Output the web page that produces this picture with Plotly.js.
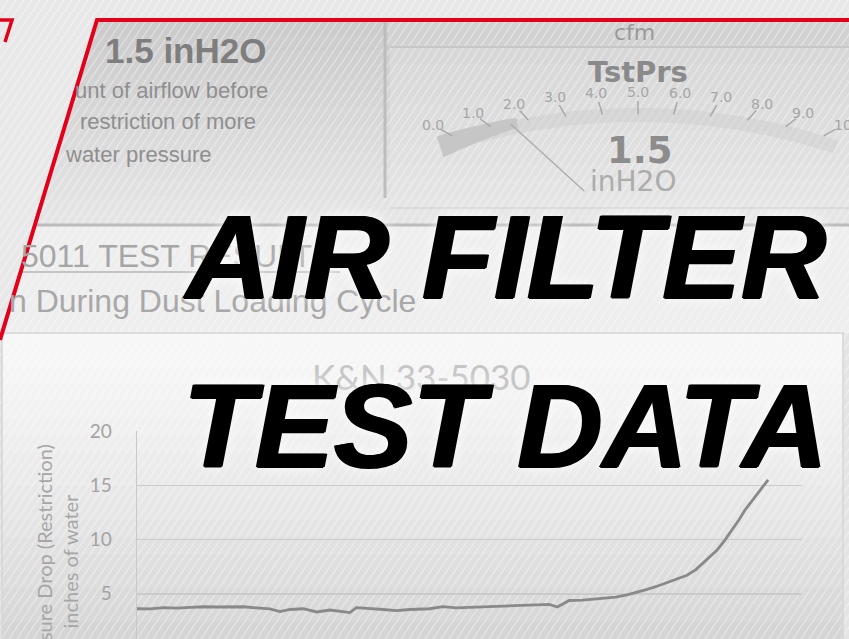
<!DOCTYPE html>
<html>
<head>
<meta charset="utf-8">
<script src="https://cdn.plot.ly/plotly-3.0.1.min.js"></script>
<style>html,body{margin:0;padding:0;background:#e9e9e9;overflow:hidden}</style>
</head>
<body>
<div id="chart" style="width:849px;height:639px"></div>
<script>
// ---------------- data ----------------
const testTime = [0, 2, 4, 6, 8, 10, 12, 14, 16, 18, 20, 21.5, 23, 25, 27, 29, 32, 33, 35, 37, 39, 41, 44, 46, 48, 51, 54, 56, 59, 62, 63.2, 65, 67, 69.6, 72, 73.7, 75, 76.7, 78, 79.7, 81, 82.7, 84, 85.1, 86.2, 87.2, 88.4, 89.5, 90.5, 91.4, 92.4, 93.4, 94.2, 94.9];
const restriction = [3.62, 3.60, 3.72, 3.68, 3.75, 3.80, 3.78, 3.82, 3.80, 3.70, 3.60, 3.36, 3.55, 3.62, 3.32, 3.50, 3.27, 3.72, 3.66, 3.55, 3.45, 3.55, 3.62, 3.82, 3.70, 3.76, 3.85, 3.92, 3.98, 4.02, 3.78, 4.38, 4.42, 4.52, 4.68, 4.90, 5.10, 5.40, 5.65, 6.02, 6.30, 6.70, 7.20, 7.80, 8.40, 9.00, 9.95, 10.9, 11.8, 12.7, 13.5, 14.3, 14.9, 15.5];
const yTickVals = [5, 10, 15, 20];
const yTickText = ['5', '10', '15', '20'];
const chartTitle = 'K&N 33-5030';
const yTitleLines = ['Pressure Drop (Restriction)', 'inches of water'];
const gaugeLabels = ['0.0', '1.0', '2.0', '3.0', '4.0', '5.0', '6.0', '7.0', '8.0', '9.0', '10'];
const gaugeReading = 1.5;
const gaugeUnit = 'inH2O';
const headline = ['AIR FILTER', 'TEST DATA'];

// ---------------- geometry helpers (layout only) ----------------
const W = 849, H = 639;
const fx = x => x / W;
const fy = y => 1 - y / H;
const pathFrom = pts => 'M' + pts.map(p => fx(p[0]).toFixed(5) + ',' + fy(p[1]).toFixed(5)).join('L') + 'Z';
const lineFrom = pts => 'M' + pts.map(p => fx(p[0]).toFixed(5) + ',' + fy(p[1]).toFixed(5)).join('L');
const gray = g => { g = Math.round(g); return 'rgb(' + g + ',' + g + ',' + g + ')'; };
const diagX = y => 97 - (y - 20) * (97 / 320);

const shapes = [];
const P = (o) => shapes.push(Object.assign({xref: 'paper', yref: 'paper', layer: 'below'}, o));

// inner region base
P({type: 'path', path: pathFrom([[97, 20], [849, 20], [849, 639], [0, 639], [0, 340]]), fillcolor: '#e2e2e2', line: {width: 0}});
// top panel gradient bands
{
  const n = 14, y0 = 21, y1 = 225;
  for (let i = 0; i < n; i++) {
    const a = y0 + (y1 - y0) * i / n, b = y0 + (y1 - y0) * (i + 1) / n + 0.6;
    P({type: 'path', path: pathFrom([[diagX(a), a], [849, a], [849, b], [diagX(b), b]]), fillcolor: gray(203 + 26 * i / (n - 1)), line: {width: 0}});
  }
}
// middle band
P({type: 'path', path: pathFrom([[diagX(225), 225], [849, 225], [849, 333], [diagX(333), 333]]), fillcolor: '#eeeeee', line: {width: 0}});
// chart panel gradient
{
  const n = 18, y0 = 333, y1 = 639;
  for (let i = 0; i < n; i++) {
    const a = y0 + (y1 - y0) * i / n, b = y0 + (y1 - y0) * (i + 1) / n + 0.6;
    P({type: 'path', path: pathFrom([[2, a], [843, a], [843, b], [2, b]]), fillcolor: gray(247 - 34 * Math.pow(i / (n - 1), 1.3)), line: {width: 0}});
  }
}
P({type: 'path', path: pathFrom([[843, 333], [849, 333], [849, 639], [843, 639]]), fillcolor: '#e4e4e4', line: {width: 0}});
// gauge panel
P({type: 'path', path: pathFrom([[388, 22], [849, 22], [849, 46], [388, 46]]), fillcolor: '#d2d2d2', line: {width: 0}});
{
  const n = 10, y0 = 48, y1 = 212;
  for (let i = 0; i < n; i++) {
    const a = y0 + (y1 - y0) * i / n, b = y0 + (y1 - y0) * (i + 1) / n + 0.6;
    P({type: 'path', path: pathFrom([[390, a], [849, a], [849, b], [390, b]]), fillcolor: gray(215 + 14 * i / (n - 1)), line: {width: 0}});
  }
}

// diagonal brushed stripes
{
  const dx = 639 / Math.tan(56 * Math.PI / 180);
  for (let x0 = -dx; x0 < 849; x0 += 8) {
    P({type: 'line', x0: fx(x0), y0: fy(639), x1: fx(x0 + dx), y1: fy(0), line: {color: 'rgba(255,255,255,0.32)', width: 1.6}});
  }
}

// gauge frame lines
P({type: 'line', x0: fx(385), y0: fy(22), x1: fx(385), y1: fy(198), line: {color: '#bdbdbd', width: 3}});
P({type: 'line', x0: fx(390), y0: fy(47), x1: fx(849), y1: fy(47), line: {color: '#c8c8c8', width: 2}});
P({type: 'line', x0: fx(390), y0: fy(208), x1: fx(849), y1: fy(208), line: {color: '#d6d6d6', width: 1.5}});

// gauge arc, ticks, needle
const GC = [638, 745], GR = 653, PIV = [638, 240];
const gAng = v => (-18.3 + v * 3.66) * Math.PI / 180;
const gPt = (v, r) => [GC[0] + r * Math.sin(gAng(v)), GC[1] - r * Math.cos(gAng(v))];
{
  const outer = [], inner = [];
  for (let k = 0; k <= 50; k++) { const v = 10 * k / 50; outer.push(gPt(v, GR - 16)); inner.unshift(gPt(v, GR - 30)); }
  P({type: 'path', path: pathFrom(outer.concat(inner)), fillcolor: 'rgba(195,195,195,0.32)', line: {width: 0}});
  const o2 = [], i2 = [];
  for (let k = 0; k <= 10; k++) { const v = 2 * k / 10; o2.push(gPt(v, GR - 12 - 2 * k / 10)); i2.unshift(gPt(v, GR - 34 + 10 * k / 10)); }
  P({type: 'path', path: pathFrom(o2.concat(i2)), fillcolor: '#c6c6c6', line: {width: 0}});
}
gaugeLabels.forEach((lab, i) => {
  const p = gPt(i, GR);
  const d = [PIV[0] - p[0], PIV[1] - p[1]], L = Math.hypot(d[0], d[1]);
  const u = [d[0] / L, d[1] / L];
  P({type: 'line', x0: fx(p[0] + u[0] * 9), y0: fy(p[1] + u[1] * 9), x1: fx(p[0] + u[0] * 22), y1: fy(p[1] + u[1] * 22), line: {color: '#a6a6a6', width: 1.4}});
});
{
  const p = gPt(gaugeReading, GR);
  const a = [PIV[0] + 0.37 * (p[0] - PIV[0]), PIV[1] + 0.37 * (p[1] - PIV[1])];
  const b = [PIV[0] + 0.88 * (p[0] - PIV[0]), PIV[1] + 0.88 * (p[1] - PIV[1])];
  P({type: 'line', x0: fx(a[0]), y0: fy(a[1]), x1: fx(b[0]), y1: fy(b[1]), line: {color: '#ababab', width: 1.3}});
}

// panel separators
P({type: 'line', x0: fx(diagX(225)), y0: fy(225), x1: fx(849), y1: fy(225), line: {color: '#bcbcbc', width: 3}});
P({type: 'line', x0: fx(20), y0: fy(272), x1: fx(340), y1: fy(272), line: {color: '#b4b4b4', width: 1.5}});
P({type: 'path', path: lineFrom([[2, 645], [2, 333], [843, 333], [843, 645]]), line: {color: '#d6d6d6', width: 1.5}});

// red frame
P({type: 'path', path: lineFrom([[849, 20], [97, 20], [0, 340]]), line: {color: '#e2001a', width: 4}});
P({type: 'path', path: lineFrom([[0, 20], [12, 20], [5, 42]]), line: {color: '#e2001a', width: 3.5}});

// ---------------- annotations ----------------
const LS = 'Liberation Sans, Arial, sans-serif';
const DV = 'DejaVu Sans, Verdana, sans-serif';
const annotations = [];
const A = (o) => annotations.push(Object.assign({xref: 'paper', yref: 'paper', showarrow: false, yanchor: 'middle'}, o));

A({text: '1.5 inH2O', x: fx(103), y: fy(50), xanchor: 'left', font: {family: LS, size: 35, color: '#7e7e7e', weight: 700}});
A({text: 'unt of airflow before', x: fx(73), y: fy(90), xanchor: 'left', font: {family: LS, size: 22, color: '#8f8f8f'}});
A({text: 'restriction of more', x: fx(78), y: fy(122), xanchor: 'left', font: {family: LS, size: 22, color: '#8f8f8f'}});
A({text: 'water pressure', x: fx(63), y: fy(154), xanchor: 'left', font: {family: LS, size: 22, color: '#8f8f8f'}});
A({text: 'cfm', x: fx(634), y: fy(33), xanchor: 'center', font: {family: DV, size: 22, color: '#9a9a9a'}});
A({text: 'TstPrs', x: fx(638), y: fy(72), xanchor: 'center', font: {family: DV, size: 29, color: '#8a8a8a', weight: 700}});
gaugeLabels.forEach((lab, i) => {
  const p = gPt(i, GR);
  A({text: lab, x: fx(p[0]), y: fy(p[1]), xanchor: 'center', font: {family: DV, size: 14, color: '#a6a6a6'}});
});
A({text: String(gaugeReading), x: fx(640), y: fy(150), xanchor: 'center', font: {family: DV, size: 37, color: '#8c8c8c', weight: 700}});
A({text: gaugeUnit, x: fx(633), y: fy(181), xanchor: 'center', font: {family: DV, size: 28, color: '#acacac'}});
A({text: '5011 TEST RESULTS', x: fx(19), y: fy(256), xanchor: 'left', font: {family: LS, size: 32, color: '#a6a6a6'}});
A({text: 'n During Dust Loading Cycle', x: fx(7), y: fy(301), xanchor: 'left', font: {family: LS, size: 32, color: '#a8a8a8'}});
A({text: chartTitle, x: fx(421), y: fy(376), xanchor: 'center', font: {family: 'Lato, Open Sans, sans-serif', size: 35, color: '#c6c6c6'}});
A({text: yTitleLines.join('<br>'), x: fx(57), y: fy(562), xanchor: 'center', textangle: -90, font: {family: 'Lato, Open Sans, sans-serif', size: 20, color: '#a6a6a6'}});
const bigShadow = '1.3px 0 0 #000, -1.3px 0 0 #000, 0 1px 0 #000, 0 0 14px rgba(255,255,255,0.95)';
A({text: headline[0], x: fx(504), y: fy(257), xanchor: 'center', font: {family: LS, size: 118, color: '#000000', weight: 700, style: 'italic', shadow: bigShadow}});
A({text: headline[1], x: fx(505), y: fy(426), xanchor: 'center', font: {family: LS, size: 118, color: '#000000', weight: 700, style: 'italic', shadow: bigShadow}});

// ---------------- chart ----------------
const trace = {
  type: 'scatter', mode: 'lines', x: testTime, y: restriction,
  line: {color: '#898989', width: 2.8, shape: 'linear'}, hoverinfo: 'skip', showlegend: false
};
const layout = {
  width: W, height: H, autosize: false,
  margin: {l: 0, r: 0, t: 0, b: 0, pad: 0},
  paper_bgcolor: '#e8e8e8', plot_bgcolor: 'rgba(0,0,0,0)',
  showlegend: false,
  xaxis: {domain: [137 / W, 802 / W], range: [0, 100], showgrid: false, zeroline: false, showticklabels: false, showline: false, ticks: '', fixedrange: true},
  yaxis: {domain: [0, 1 - 431 / H], range: [0.83, 20], tickvals: yTickVals, ticktext: yTickText,
    showgrid: true, gridcolor: '#cbcbcb', gridwidth: 1.5, zeroline: false,
    showline: true, linecolor: '#c9c9c9', linewidth: 1.5, ticks: '', ticklabelstandoff: 20,
    tickfont: {family: 'Lato, Open Sans, sans-serif', size: 19, color: '#a3a3a3'}, fixedrange: true},
  shapes: shapes,
  annotations: annotations
};
Plotly.newPlot('chart', [trace], layout, {displayModeBar: false, staticPlot: true});
</script>
</body>
</html>
